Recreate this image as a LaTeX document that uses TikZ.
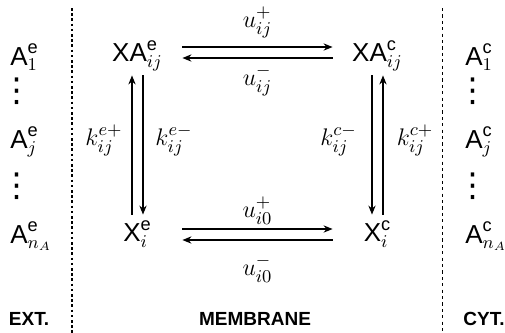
\documentclass[tikz,border=0pt]{standalone}
\usepackage{amsmath}
\usepackage{fontspec}
\setsansfont{Liberation Sans}
\newfontfamily\symfont{DejaVu Sans}
\usetikzlibrary{arrows.meta}
\newcommand{\spc}[3]{\ensuremath{\textsf{#1}^{\textsf{#2}}_{#3}}}
\newcommand{\vdts}{{\symfont\fontsize{16.5}{16.5}\selectfont ⋮}}
\begin{document}
\begin{tikzpicture}[x=0.5pt, y=-0.5pt, font=\fontsize{13}{15}\selectfont,
  state/.style={inner sep=0pt, minimum width=44.5pt, minimum height=19pt},
  flux/.style={line width=0.65pt, -{Stealth[length=4.5pt,width=3.6pt]}},
  lab/.style={anchor=base, inner sep=0pt},
  pool/.style={anchor=base west, inner sep=0pt},
  dots/.style={inner sep=0pt},
  zone/.style={font=\sffamily\bfseries\fontsize{9.5}{11}\selectfont, anchor=base, inner sep=0pt}]
  \useasboundingbox (0,0) rectangle (505,333);
  % compartment borders
  \draw[line width=0.75pt, dash pattern=on 1.3pt off 1.3pt] (72,8) -- (72,333);
  \draw[line width=0.4pt, dash pattern=on 1.6pt off 1.6pt] (442.5,8) -- (442.5,333);
  % membrane species
  \node[state] (XAe) at (137.5,56) {\spc{XA}{e}{ij}};
  \node[state] (XAc) at (377.5,56) {\spc{XA}{c}{ij}};
  \node[state] (Xe) at (137.5,234) {\spc{X}{e}{i}};
  \node[state] (Xc) at (377.5,234) {\spc{X}{c}{i}};
  % exterior and cytoplasm pools
  \node[pool] (Ae1) at (10,65) {\spc{A}{e}{1}};
  \node[dots] (de1) at (17.5,91) {\vdts};
  \node[pool] (Aej) at (10,148) {\spc{A}{e}{j}};
  \node[dots] (de2) at (17.5,186) {\vdts};
  \node[pool] (Aen) at (10,243) {\spc{A}{e}{n_A}};
  \node[pool] (Ac1) at (465,65) {\spc{A}{c}{1}};
  \node[dots] (dc1) at (473,91) {\vdts};
  \node[pool] (Acj) at (465,148) {\spc{A}{c}{j}};
  \node[dots] (dc2) at (473,186) {\vdts};
  \node[pool] (Acn) at (465,243) {\spc{A}{c}{n_A}};
  % transport
  \draw[flux] ([yshift=4.5pt]XAe.east) -- node[lab, yshift=10pt] {$u^{+}_{ij}$} ([yshift=4.5pt]XAc.west);
  \draw[flux] ([yshift=-1pt]XAc.west) -- node[lab, yshift=-13.5pt] {$u^{-}_{ij}$} ([yshift=-1pt]XAe.east);
  \draw[flux] ([yshift=2.5pt]Xe.east) -- node[lab, yshift=6pt] {$u^{+}_{i0}$} ([yshift=2.5pt]Xc.west);
  \draw[flux] ([yshift=-3pt]Xc.west) -- node[lab, yshift=-17.5pt] {$u^{-}_{i0}$} ([yshift=-3pt]Xe.east);
  % binding
  \draw[flux] ([xshift=-2.75pt]Xe.north) -- node[lab, xshift=-14pt] {$k^{e+}_{ij}$} ([xshift=-2.75pt]XAe.south);
  \draw[flux] ([xshift=2.75pt]XAe.south) -- node[lab, xshift=15.5pt] {$k^{e-}_{ij}$} ([xshift=2.75pt]Xe.north);
  \draw[flux] ([xshift=-2.75pt]XAc.south) -- node[lab, xshift=-16.75pt] {$k^{c-}_{ij}$} ([xshift=-2.75pt]Xc.north);
  \draw[flux] ([xshift=2.75pt]Xc.north) -- node[lab, xshift=16pt] {$k^{c+}_{ij}$} ([xshift=2.75pt]XAc.south);
  % compartment names
  \node[zone] (ext) at (29,325) {EXT.};
  \node[zone] (mem) at (255,325) {MEMBRANE};
  \node[zone] (cyt) at (484,325) {CYT.};
\end{tikzpicture}
\end{document}
